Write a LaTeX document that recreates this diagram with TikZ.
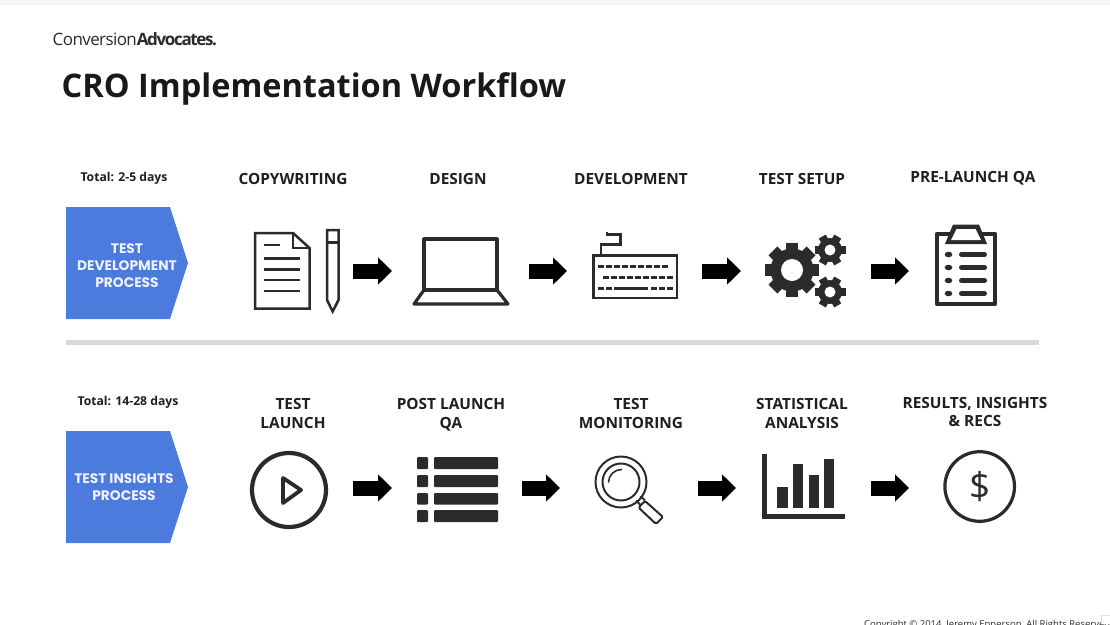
\documentclass[tikz,border=0pt]{standalone}
\usepackage{fontspec}
\usetikzlibrary{arrows.meta}
\setmainfont{Open Sans}
\newfontfamily\popfont{Poppins}
\newfontfamily\logolight[LetterSpace=-3.5]{Open Sans}
\newfontfamily\logobold[LetterSpace=-8]{Open Sans}
\definecolor{ink}{HTML}{2B2B2E}
\definecolor{procblue}{HTML}{4A7BDD}
\definecolor{rulegray}{HTML}{D9D9D9}
\definecolor{topband}{HTML}{F3F3FA}
\tikzset{
  stagelabel/.style={font=\bfseries\fontsize{15.4}{18.8}\selectfont,text=black!88,align=center,inner sep=0pt,anchor=center},
  totallabel/.style={font=\bfseries\fontsize{12.2}{14}\selectfont,text=black!88,inner sep=0pt},
  proctext/.style={font=\popfont\fontsize{13.8}{17}\selectfont\bfseries,text=white!94!blue,align=center,inner sep=0pt},
  iconslot/.style={draw=none,inner sep=0pt,outer sep=0pt,minimum height=30pt},
  blockarrow/.style={draw=black,line width=15pt,-{Triangle[length=14pt,width=26.5pt]}},
  thinicon/.style={draw=ink,line width=2.5pt,line join=miter},
  keyrow/.style={draw=ink,line width=3pt,dash pattern=on 5.5pt off 2.5pt},
  roundicon/.style={draw=ink,line width=3.2pt,line join=round,line cap=round},
  procshape/.style={fill=procblue,draw=none},
}
\newcommand{\gearicon}[7]{% cx cy outer root hole toothwidth angles
  \foreach \a in {#7}{
    \draw[ink,line width=#6pt] (#1,#2) ++(\a:-#3) -- ++(\a:2*#3);
  }
  \fill[ink] (#1,#2) circle (#4);
  \fill[white] (#1,#2) circle (#5);
}
\begin{document}
\begin{tikzpicture}[x=1pt,y=-1pt]
\useasboundingbox (0,0) rectangle (1110,624);
\clip (0,0) rectangle (1110,624);
\fill[white] (0,0) rectangle (1110,624);
\fill[topband] (0,0) rectangle (1110,5);

% header
\node[anchor=base west,inner sep=0pt,text=ink] (logo) at (52.5,45.5) {\fontsize{17}{20}\selectfont{\logolight Conversion}{\logobold\bfseries Advocates.}};
\node[anchor=base west,inner sep=0pt,text=black!90,font=\bfseries\fontsize{32.5}{38}\selectfont] (title) at (61.5,97) {CRO Implementation Workflow};

% process shapes
\fill[procshape] (66,207) -- (170,207) -- (188,263) -- (170,319) -- (66,319) -- cycle;
\fill[procshape] (66,431) -- (170,431) -- (188,487) -- (170,543) -- (66,543) -- cycle;
\node[proctext] (proc1) at (127,266) {TEST\\DEVELOPMENT\\PROCESS};
\node[proctext] (proc2) at (124,487.5) {TEST INSIGHTS\\PROCESS};
\node[totallabel] (tot1) at (124,178.5) {Total: 2-5 days};
\node[totallabel] (tot2) at (128,402.5) {Total: 14-28 days};

% divider
\fill[rulegray] (66,340) rectangle (1039,344.5);

% stage labels
\node[stagelabel] (l1) at (293,178.7) {COPYWRITING};
\node[stagelabel] (l2) at (458,178.7) {DESIGN};
\node[stagelabel] (l3) at (631,178.7) {DEVELOPMENT};
\node[stagelabel] (l4) at (802,178.7) {TEST SETUP};
\node[stagelabel] (l5) at (973,178.5) {PRE-LAUNCH QA};
\node[stagelabel] (l6) at (293,413.3) {TEST\\LAUNCH};
\node[stagelabel] (l7) at (451,414.5) {POST LAUNCH\\QA};
\node[stagelabel] (l8) at (631,413.3) {TEST\\MONITORING};
\node[stagelabel] (l9) at (802,413.3) {STATISTICAL\\ANALYSIS};
\node[stagelabel] (l10) at (975,412) {RESULTS, INSIGHTS\\\& RECS};

% slots that the block arrows join (top row)
\node[iconslot,minimum width=113pt] (s1) at (240+56.5,271) {};
\node[iconslot,minimum width=137pt] (s2) at (392+68.5,271) {};
\node[iconslot,minimum width=135pt] (s3) at (567+67.5,271) {};
\node[iconslot,minimum width=130pt] (s4) at (741+65,271) {};
\node[iconslot,minimum width=91pt]  (s5) at (909+45.5,271) {};
\draw[blockarrow] (s1.east) -- (s2.west);
\draw[blockarrow] (s2.east) -- (s3.west);
\draw[blockarrow] (s3.east) -- (s4.west);
\draw[blockarrow] (s4.east) -- (s5.west);
% bottom row
\node[iconslot,minimum width=113pt] (t1) at (240+56.5,488) {};
\node[iconslot,minimum width=130pt] (t2) at (392+65,488) {};
\node[iconslot,minimum width=138pt] (t3) at (560+69,488) {};
\node[iconslot,minimum width=135pt] (t4) at (736+67.5,488) {};
\node[iconslot,minimum width=91pt]  (t5) at (909+45.5,488) {};
\draw[blockarrow] (t1.east) -- (t2.west);
\draw[blockarrow] (t2.east) -- (t3.west);
\draw[blockarrow] (t3.east) -- (t4.west);
\draw[blockarrow] (t4.east) -- (t5.west);

% document
\draw[thinicon] (255,233) -- (293,233) -- (309.5,248) -- (309.5,308.5) -- (255,308.5) -- cycle;
\draw[thinicon] (293,233) -- (293,248) -- (309.5,248);
\draw[thinicon] (264,245) -- (280,245);
\foreach \yy in {258.5,269.5,280,291}{\draw[thinicon] (264,\yy) -- (300,\yy);}
% pencil
\draw[thinicon] (327,230) -- (338.5,230) -- (338.5,300) -- (332.7,311.5) -- (327,300) -- cycle;
\draw[thinicon] (327,242.5) -- (338.5,242.5);

% laptop
\draw[roundicon] (424,239) -- (497,239) -- (497,290) -- (424,290) -- cycle;
\draw[roundicon] (424,290) -- (414,304) -- (508,304) -- (497,290);

% keyboard
\draw[thinicon] (593.5,255.5) rectangle (677,298);
\draw[thinicon] (601,255.5) -- (601,244.5) -- (620.5,244.5) -- (620.5,234.5) -- (607,234.5) -- (607,232);
\draw[keyrow] (598,266) -- (668,266);
\draw[keyrow] (603,277) -- (674,277);
\draw[keyrow] (598,288) -- (611.5,288);
\draw[thinicon,line width=3pt] (614,288) -- (648,288);
\draw[keyrow] (651,288) -- (673,288);

% gears
\gearicon{792}{270}{27}{21.5}{11}{12.5}{0,45,90,135}
\gearicon{830}{250}{15.5}{12}{5.5}{8}{0,60,120}
\gearicon{830}{292}{15.5}{12}{5.5}{8}{0,60,120}

% clipboard
\draw[draw=ink,line width=4.6pt,line join=round] (937,234) rectangle (995,304);
\fill[ink] (945,244) -- (953,224.5) -- (979,224.5) -- (987,244) -- cycle;
\fill[white] (951,240) -- (956.5,229) -- (975.5,229) -- (981,240) -- cycle;
\foreach \yy in {254.5,267.5,280.5,293.5}{
  \fill[ink] (948.5,\yy) ellipse (3.8 and 2.8);
  \draw[ink,line width=5pt,line cap=round] (961.5,\yy) -- (984.5,\yy);
}

% play
\draw[ink,line width=4.2pt] (289,490) circle (37);
\draw[ink,line width=3.8pt,line join=round] (283,478) -- (283,503) -- (301,490) -- cycle;

% list
\foreach \ya/\yb in {457/469,475/487,493/504.5,510/522}{
  \fill[ink,rounded corners=1pt] (417,\ya) rectangle (428,\yb);
  \fill[ink,rounded corners=1pt] (434,\ya) rectangle (498,\yb);
}

% magnifier
\draw[ink,line width=2pt] (621,482) circle (25.5);
\draw[ink,line width=2pt] (621,482) circle (18.5);
\draw[ink,line width=1.6pt,line cap=round] (621.5,469.5) arc (-90:-178:13);
\draw[ink,line width=2pt] (636,500.5) -- (640.5,505);
\draw[ink,line width=2pt] (640.5,496) -- (645,500.5);
\draw[ink,line width=2pt,line join=round,rounded corners=1.5pt] (638.5,507.5) -- (645,501) -- (663,517) -- (656,524) -- cycle;

% bar chart
\fill[ink] (762,454) rectangle (767,519);
\fill[ink] (762,513.5) rectangle (845,519);
\fill[ink] (777,487) rectangle (788,508);
\fill[ink] (793,464) rectangle (803,508);
\fill[ink] (809,475) rectangle (819,508);
\fill[ink] (824,459) rectangle (834,508);

% dollar
\draw[ink,line width=3.2pt] (979.7,486.5) circle (34.8);
\node[inner sep=0pt,text=ink,font=\fontsize{37}{40}\selectfont] (dollar) at (979.7,487) {\$};

% footer
\node[anchor=base west,inner sep=0pt,text=ink,font=\fontsize{9.5}{11}\selectfont] (copy) at (864,627) {Copyright © 2014, Jeremy Epperson, All Rights Reserved};
\fill[white] (1101,615) rectangle (1110,624);
\draw[black!12,line width=0.6pt] (1101,624) -- (1101,615) -- (1110,615);
\end{tikzpicture}
\end{document}
